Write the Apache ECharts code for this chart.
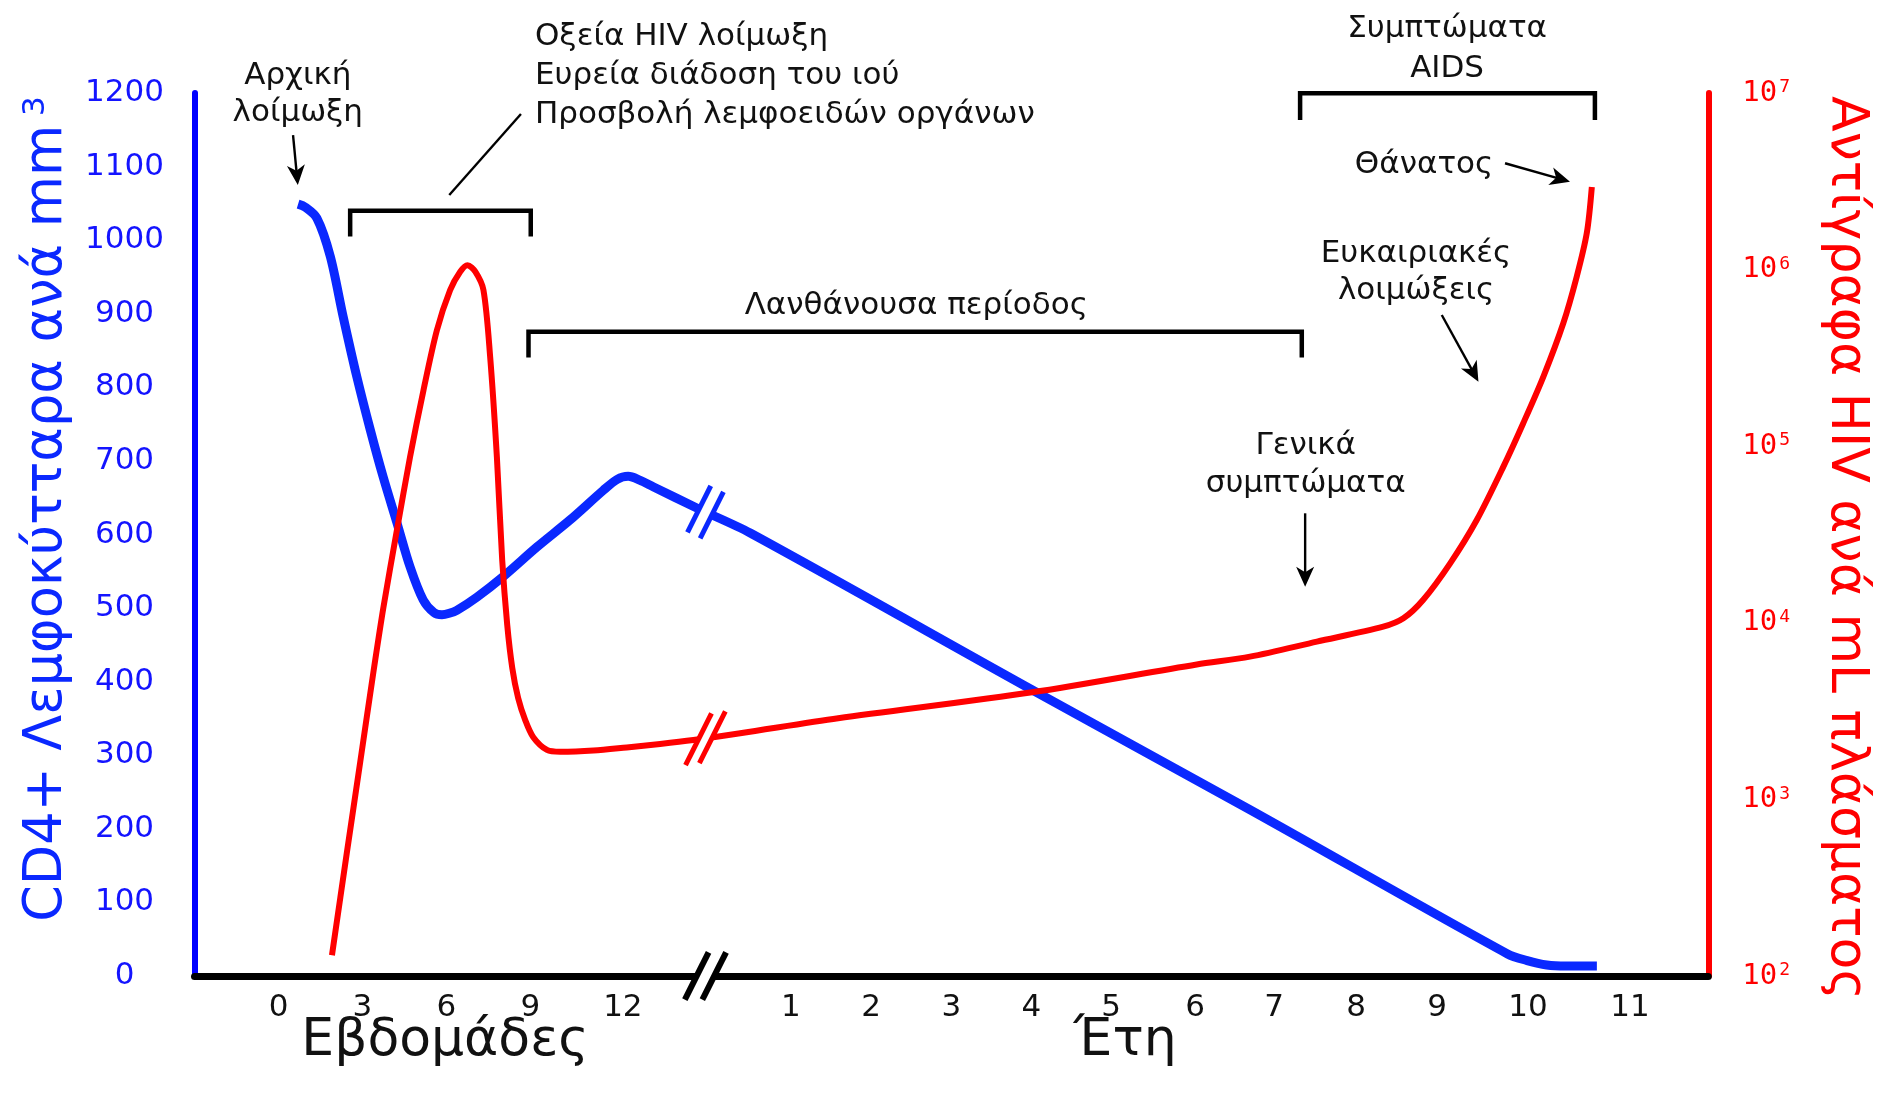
<!DOCTYPE html>
<html>
<head>
<meta charset="utf-8">
<script src="https://cdn.jsdelivr.net/npm/echarts@6/dist/echarts.min.js"></script>
<style>
html, body { margin: 0; padding: 0; background: #ffffff; }
#chart { width: 1877px; height: 1106px; }
</style>
</head>
<body>
<div id="chart"></div>
<script>
// Horizontal scale: one unit = one week; the years section follows the axis break.
const weekTickPos  = [0, 3, 6, 9, 12.3];
const weekTickText = ['0', '3', '6', '9', '12'];
const yearTickPos  = [18.3, 21.17, 24.03, 26.89, 29.74, 32.74, 35.56, 38.49, 41.38, 44.63, 48.27];
const yearTickText = ['1', '2', '3', '4', '5', '6', '7', '8', '9', '10', '11'];
const breakPos = 15.25;

// CD4+ lymphocytes per mm³
const cd4X = [0.70, 0.95, 1.37, 1.85, 2.31, 2.80, 3.28, 3.74, 4.23, 4.70, 5.17, 5.55, 5.84, 6.10, 6.37,
              7.09, 8.03, 9.23, 10.42, 11.60, 12.10, 12.49, 12.90, 13.38, 14.94, 16.85, 26.91, 34.70,
              43.90, 44.60, 45.30, 46.00, 47.09];
const cd4Y = [1049, 1045, 1030, 978, 896, 814, 742, 678, 616, 556, 511, 494, 491, 493, 497,
              515, 543, 583, 620, 660, 675, 679, 674, 665, 636, 602, 389, 226,
              30, 21, 15, 13.6, 13.6];

// HIV RNA copies per mL of plasma
const rnaX = [1.91, 2.44, 2.92, 3.39, 3.75, 4.23, 4.70, 5.18, 5.66, 6.13, 6.49, 6.75, 7.03, 7.32,
              7.56, 7.80, 7.99, 8.17, 8.35, 8.56, 8.81, 9.10, 9.59, 10.06, 11.25, 12.44, 13.63, 14.82,
              16.49, 19.99, 26.92, 32.80, 34.70, 37.09, 39.46, 40.18, 40.89, 41.85, 42.80, 43.75,
              44.46, 45.18, 45.89, 46.37, 46.73, 46.91];
const rnaY = [131, 497, 1630, 5260, 12300, 33500, 87100, 208000, 455000, 766000, 973000, 1060000, 973000, 766000,
              321000, 87100, 22700, 9730, 5550, 3750, 2820, 2250, 1905, 1860, 1890, 1970, 2060, 2170,
              2370, 2880, 4040, 5810, 6430, 7820, 9510, 10600, 13500, 21700, 38200, 76600,
              135000, 248000, 497000, 912000, 1610000, 2940000];

// Phase brackets: [from, to, top, leg end] (CD4 scale for heights)
const bracketFrom = [2.56, 8.93, 36.49];
const bracketTo   = [9.01, 36.55, 47.02];
const bracketTop  = [1040, 875.6, 1199.5];
const bracketLeg  = [1005, 840.6, 1163.3];

// Pointers: start -> end, with or without an arrow head
const arrowX1 = [0.52, 43.81, 41.55, 36.67, 8.66];
const arrowY1 = [1142.9, 1104.5, 898.3, 628.8, 1171.5];
const arrowX2 = [0.69, 46.13, 42.86, 36.67, 6.10];
const arrowY2 = [1075.0, 1079.5, 807.7, 529.1, 1061.4];
const arrowHead = [1, 1, 1, 1, 0];

// Text notes
const noteText = [
  'Αρχική\nλοίμωξη',
  'Οξεία HIV λοίμωξη\nΕυρεία διάδοση του ιού\nΠροσβολή λεμφοειδών οργάνων',
  'Λανθάνουσα περίοδος',
  'Συμπτώματα\nAIDS',
  'Θάνατος',
  'Ευκαιριακές\nλοιμώξεις',
  'Γενικά\nσυμπτώματα',
  'Εβδομάδες',
  'Έτη'
];
const noteX = [0.69, 9.16, 22.78, 41.74, 43.39, 40.63, 36.69, 5.95, 30.24];
const noteY = [1198, 1223, 910, 1260.5, 1102.5, 956, 695, -89, -89];
const noteAlign = ['center', 'left', 'center', 'center', 'right', 'center', 'center', 'center', 'center'];
const noteSize = [31, 31, 31, 31, 31, 31, 31, 52, 52];
const noteLine = [37, 39, 38, 40, 38, 37, 38, 56, 56];

const FONT = '"DejaVu Sans", "Noto Sans", sans-serif';
const CURVE_BLUE = '#0a28ff';
const AXIS_BLUE = '#0000ff';
const RED = '#ff0000';

function pairs(xs, ys) { return xs.map((x, i) => [x, ys[i]]); }

function interp(xs, ys, x, logScale) {
  for (let i = 0; i < xs.length - 1; i++) {
    if (x >= xs[i] && x <= xs[i + 1]) {
      const t = (x - xs[i]) / (xs[i + 1] - xs[i]);
      if (logScale) {
        const a = Math.log10(ys[i]), b = Math.log10(ys[i + 1]);
        return Math.pow(10, a + (b - a) * t);
      }
      return ys[i] + (ys[i + 1] - ys[i]) * t;
    }
  }
  return ys[ys.length - 1];
}

const tickPos = weekTickPos.concat(yearTickPos);
const tickText = weekTickText.concat(yearTickText);

// "//" break symbol across a curve or the axis
function breakRenderer(xs, ys, logScale, color, sep, len, width) {
  return function (params, api) {
    const x = api.value(0);
    let c, t;
    if (xs) {
      c = api.coord([x, interp(xs, ys, x, logScale)]);
      const a = api.coord([x - 0.4, interp(xs, ys, x - 0.4, logScale)]);
      const b = api.coord([x + 0.4, interp(xs, ys, x + 0.4, logScale)]);
      const dx = b[0] - a[0], dy = b[1] - a[1], d = Math.hypot(dx, dy);
      t = [dx / d, dy / d];
    } else {
      c = api.coord([x, api.value(1)]);
      t = [1, 0];
    }
    const sl = Math.hypot(1, 2);
    const s = [1 / sl, -2 / sl];
    const c1 = [c[0] - t[0] * sep / 2, c[1] - t[1] * sep / 2];
    const c2 = [c[0] + t[0] * sep / 2, c[1] + t[1] * sep / 2];
    const h = len / 2;
    const end = (p, k) => [p[0] + s[0] * h * k, p[1] + s[1] * h * k];
    return {
      type: 'group',
      children: [
        { type: 'polygon', shape: { points: [end(c1, 1), end(c2, 1), end(c2, -1), end(c1, -1)] },
          style: { fill: '#ffffff' } },
        { type: 'line', shape: { x1: end(c1, -1)[0], y1: end(c1, -1)[1], x2: end(c1, 1)[0], y2: end(c1, 1)[1] },
          style: { stroke: color, lineWidth: width } },
        { type: 'line', shape: { x1: end(c2, -1)[0], y1: end(c2, -1)[1], x2: end(c2, 1)[0], y2: end(c2, 1)[1] },
          style: { stroke: color, lineWidth: width } }
      ]
    };
  };
}

const chart = echarts.init(document.getElementById('chart'), null, { renderer: 'canvas' });

chart.setOption({
  animation: false,
  backgroundColor: '#ffffff',
  grid: { left: 194.5, right: 168.7, top: 93, bottom: 130, containLabel: false, outerBoundsMode: 'none' },
  xAxis: {
    type: 'value', min: -3, max: 51.07,
    axisLine: { show: true, onZero: false, lineStyle: { color: '#000000', width: 7 } },
    axisTick: { show: false },
    splitLine: { show: false },
    axisLabel: {
      customValues: tickPos,
      margin: 16,
      color: '#111111', fontSize: 31, fontFamily: FONT,
      formatter: function (v) {
        const i = tickPos.findIndex(p => Math.abs(p - v) < 1e-6);
        return i >= 0 ? tickText[i] : '';
      }
    }
  },
  yAxis: [
    {
      type: 'value', min: 0, max: 1200, interval: 100, position: 'left',
      name: '{a|CD4+ Λεμφοκύτταρα ανά mm}{s|3}',
      nameLocation: 'middle', nameRotate: 90, nameGap: 121,
      nameTextStyle: {
        padding: [0, 0, 0, 51],
        rich: {
          a: { fontSize: 52.5, fontFamily: FONT, color: CURVE_BLUE },
          s: { fontSize: 31, fontFamily: FONT, color: CURVE_BLUE, verticalAlign: 'top', padding: [0, 0, 0, 9] }
        }
      },
      axisLine: { show: true, onZero: false, lineStyle: { color: AXIS_BLUE, width: 6 } },
      axisTick: { show: false },
      splitLine: { show: false },
      axisLabel: {
        align: 'center', margin: 70, color: '#1414ff', fontSize: 31, fontFamily: FONT,
        formatter: function (v) { return String(v); }
      }
    },
    {
      type: 'log', logBase: 10, min: 100, max: 10000000, position: 'right',
      name: 'Αντίγραφα HIV ανά mL πλάσματος',
      nameLocation: 'middle', nameRotate: -90, nameGap: 111,
      nameTextStyle: { fontSize: 52, fontFamily: FONT, color: RED, padding: [0, 0, 0, 27] },
      axisLine: { show: true, onZero: false, lineStyle: { color: RED, width: 6 } },
      axisTick: { show: false },
      splitLine: { show: false },
      axisLabel: {
        align: 'left', margin: 34,
        formatter: function (v) {
          return '{b|10}{s|' + Math.round(Math.log10(v)) + '}';
        },
        rich: {
          b: { fontSize: 29, fontFamily: '"DejaVu Sans Mono", monospace', color: RED },
          s: { fontSize: 18, fontFamily: '"DejaVu Sans Mono", monospace', color: RED, verticalAlign: 'top', padding: [0, 0, 0, 2] }
        }
      }
    }
  ],
  series: [
    {
      name: 'CD4', type: 'line', yAxisIndex: 0, data: pairs(cd4X, cd4Y),
      showSymbol: false, smooth: 0.3, z: 2,
      lineStyle: { color: CURVE_BLUE, width: 9, cap: 'butt', join: 'round' }
    },
    {
      name: 'HIV RNA', type: 'line', yAxisIndex: 1, data: pairs(rnaX, rnaY),
      showSymbol: false, smooth: 0.3, z: 3,
      lineStyle: { color: RED, width: 6, cap: 'butt', join: 'round' }
    },
    {
      type: 'custom', yAxisIndex: 0, z: 6, silent: true, clip: false,
      data: [[breakPos, 0]],
      renderItem: breakRenderer(null, null, false, '#000000', 17.5, 53, 6)
    },
    {
      type: 'custom', yAxisIndex: 0, z: 6, silent: true, clip: false,
      data: [[breakPos, interp(cd4X, cd4Y, breakPos, false)]],
      renderItem: breakRenderer(cd4X, cd4Y, false, CURVE_BLUE, 14, 52, 5)
    },
    {
      type: 'custom', yAxisIndex: 1, z: 6, silent: true, clip: false,
      data: [[breakPos, interp(rnaX, rnaY, breakPos, true)]],
      renderItem: breakRenderer(rnaX, rnaY, true, RED, 14, 58, 5)
    },
    {
      type: 'custom', yAxisIndex: 0, z: 5, silent: true, clip: false,
      data: bracketFrom.map((x, i) => [x, bracketTo[i], bracketTop[i], bracketLeg[i]]),
      encode: { x: [0, 1], y: [2, 3] },
      renderItem: function (params, api) {
        const a = api.coord([api.value(0), api.value(3)]);
        const b = api.coord([api.value(0), api.value(2)]);
        const c = api.coord([api.value(1), api.value(2)]);
        const d = api.coord([api.value(1), api.value(3)]);
        return { type: 'polyline', shape: { points: [a, b, c, d] },
                 style: { stroke: '#000000', lineWidth: 4.5, fill: null, lineJoin: 'miter' } };
      }
    },
    {
      type: 'custom', yAxisIndex: 0, z: 5, silent: true, clip: false,
      data: arrowX1.map((x, i) => [x, arrowY1[i], arrowX2[i], arrowY2[i], arrowHead[i]]),
      encode: { x: [0, 2], y: [1, 3] },
      renderItem: function (params, api) {
        const p1 = api.coord([api.value(0), api.value(1)]);
        const p2 = api.coord([api.value(2), api.value(3)]);
        const head = api.value(4);
        const dx = p2[0] - p1[0], dy = p2[1] - p1[1], L = Math.hypot(dx, dy);
        const u = [dx / L, dy / L], n = [-u[1], u[0]];
        const back = head ? 12 : 0;
        const children = [{
          type: 'line',
          shape: { x1: p1[0], y1: p1[1], x2: p2[0] - u[0] * back, y2: p2[1] - u[1] * back },
          style: { stroke: '#000000', lineWidth: 2.4 }
        }];
        if (head) {
          const hl = 20, hw = 9;
          children.push({
            type: 'polygon',
            shape: { points: [
              p2,
              [p2[0] - u[0] * hl + n[0] * hw, p2[1] - u[1] * hl + n[1] * hw],
              [p2[0] - u[0] * hl * 0.72, p2[1] - u[1] * hl * 0.72],
              [p2[0] - u[0] * hl - n[0] * hw, p2[1] - u[1] * hl - n[1] * hw]
            ] },
            style: { fill: '#000000' }
          });
        }
        return { type: 'group', children: children };
      }
    },
    {
      type: 'custom', yAxisIndex: 0, z: 5, silent: true, clip: false,
      data: noteX.map((x, i) => [x, noteY[i]]),
      renderItem: function (params, api) {
        const i = params.dataIndex;
        const p = api.coord([api.value(0), api.value(1)]);
        return {
          type: 'text', x: p[0], y: p[1],
          style: {
            text: noteText[i], fill: '#111111',
            fontSize: noteSize[i], fontFamily: FONT,
            align: noteAlign[i], verticalAlign: 'middle', lineHeight: noteLine[i]
          }
        };
      }
    }
  ]
});
</script>
</body>
</html>
